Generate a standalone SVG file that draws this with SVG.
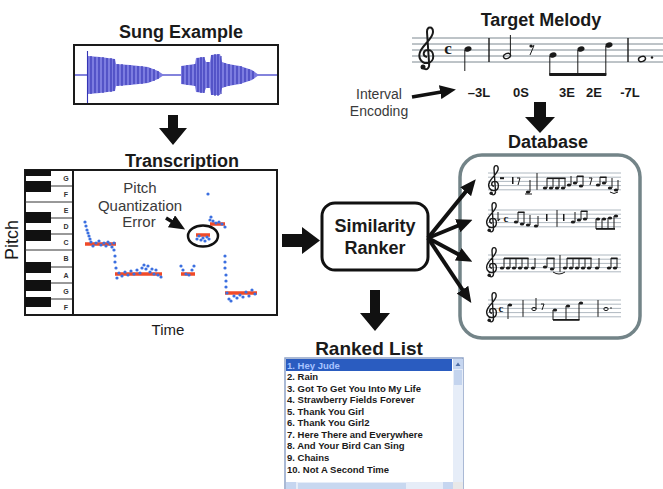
<svg xmlns="http://www.w3.org/2000/svg" xmlns:xlink="http://www.w3.org/1999/xlink" width="663" height="489" viewBox="0 0 663 489">
<style>
.title{font-family:"Liberation Sans",Arial,sans-serif;font-weight:bold;font-size:18px;fill:#1a1a1a;text-anchor:middle}
.lbl{font-family:"Liberation Sans",Arial,sans-serif;font-size:15px;fill:#3a3a3a;text-anchor:middle}
.enc{font-family:"Liberation Sans",Arial,sans-serif;font-weight:bold;font-size:13px;fill:#1a1a1a;text-anchor:middle}
.key{font-family:"Liberation Sans",Arial,sans-serif;font-weight:bold;font-size:7px;fill:#333;text-anchor:middle}
.item{font-family:"Liberation Sans",Arial,sans-serif;font-weight:bold;font-size:9.5px;fill:#1a1a1a}
.staff{stroke:#7c8890;stroke-width:1;fill:none}
.sstaff{stroke:#9aa6b0;stroke-width:0.8;fill:none}
.ink{fill:#1a1a1a}
.stem{stroke:#1a1a1a;stroke-width:1;fill:none}
.blk{fill:#111}
.red{stroke:#f04a28;stroke-width:3.5;fill:none}
.dot{fill:#3b6fe0}
.conn{stroke:#111;stroke-width:4;fill:none}
</style>
<defs>
<marker id="ah" markerUnits="userSpaceOnUse" markerWidth="16" markerHeight="14" refX="10" refY="7" orient="auto">
<path d="M0,0 L16,7 L0,14 z" fill="#111"/>
</marker>
<g id="clef">
<path d="M -4 30 C 0 33, 3 30, 2 24 L 0 -6 C 0 -12, 6 -12, 6 -6 C 6 0, -2 5, -6 12 C -10 19, -6 26, 1 25 C 8 24, 8 12, 1 12 C -4 12, -5 18, 0 19" fill="none" stroke="#1a1a1a" stroke-width="2"/>
<circle cx="-4" cy="29" r="2.5" fill="#1a1a1a"/>
</g>
</defs>
<rect width="663" height="489" fill="#ffffff"/>

<!-- Sung Example -->
<g id="sung-example">
<text class="title" x="181" y="38">Sung Example</text>
<rect x="74" y="45" width="204" height="59" fill="#ffffff" stroke="#1a1a1a" stroke-width="2"/>
<line x1="75" y1="75" x2="277" y2="75" stroke="#5a5ad0" stroke-width="1.5"/>
<path d="M87 75 L87 51 L88 56 L100 57 L115 59 L116 64 L130 65 L148 67 L158 71 L164 75 L158 79 L148 83 L130 85 L116 86 L115 91 L100 93 L88 94 L87 103 Z" fill="#7c7ce0"/>
<path d="M181 75 L181 66 L195 64 L196 58 L204 57 L206 62 L210 62 L211 55 L220 54 L222 62 L228 64 L240 66 L252 70 L259 75 L252 80 L240 84 L228 86 L222 88 L220 95 L211 95 L210 88 L206 88 L204 93 L196 92 L195 86 L181 84 Z" fill="#7c7ce0"/>
<path d="M87.5 51V103 M91 56V94 M95 57V93 M99 57V93 M103 57V93 M107 58V92 M111 58V92 M114 59V91 M118 64V86 M122 64V86 M126 65V85 M130 65V85 M134 66V84 M138 66V84 M142 66V84 M146 67V83 M150 68V82 M154 69V81 M158 71V79 M183 66V84 M187 65V85 M191 65V85 M195 64V86 M198 58V92 M201 57V93 M204 57V93 M208 62V88 M212 55V95 M215 54V96 M218 54V96 M221 56V94 M225 63V87 M229 64V86 M233 65V85 M237 66V84 M241 66V84 M245 68V82 M249 69V81 M253 71V79" stroke="#3434b4" stroke-width="1.1" fill="none"/>
</g>

<!-- Target Melody -->
<g id="target-melody">
<text class="title" x="541" y="26">Target Melody</text>
<path class="staff" d="M412 38H663 M412 44H663 M412 50H663 M412 56H663 M412 62H663"/>
<use xlink:href="#clef" transform="translate(427,38)"/>
<text x="448" y="54" font-family="Liberation Serif,serif" font-weight="bold" font-size="17" fill="#1a1a1a" text-anchor="middle">c</text>
<ellipse class="ink" cx="468" cy="49" rx="3.6" ry="2.6" transform="rotate(-20 468 49)"/>
<line class="stem" x1="464.8" y1="50" x2="464.8" y2="71"/>
<line x1="489" y1="38" x2="489" y2="62" stroke="#1a1a1a" stroke-width="1.4"/>
<ellipse cx="507" cy="56" rx="3.6" ry="2.5" transform="rotate(-20 507 56)" fill="none" stroke="#1a1a1a" stroke-width="1.4"/>
<line class="stem" x1="510.4" y1="55" x2="510.4" y2="35"/>
<circle class="ink" cx="531" cy="46" r="1.6"/>
<path d="M531 47 L534 45.5 L530 55" class="stem"/>
<ellipse class="ink" cx="553" cy="55" rx="3.6" ry="2.6" transform="rotate(-20 553 55)"/>
<ellipse class="ink" cx="581" cy="49" rx="3.6" ry="2.6" transform="rotate(-20 581 49)"/>
<ellipse class="ink" cx="609" cy="45" rx="3.6" ry="2.6" transform="rotate(-20 609 45)"/>
<path class="stem" d="M549.8 56V75 M577.8 50V75 M605.8 46V75"/>
<rect class="ink" x="549.3" y="73" width="57" height="3"/>
<line x1="628" y1="38" x2="628" y2="62" stroke="#1a1a1a" stroke-width="1.4"/>
<ellipse cx="642" cy="59" rx="3.6" ry="2.5" transform="rotate(-20 642 59)" fill="none" stroke="#1a1a1a" stroke-width="1.4"/>
<circle class="ink" cx="652" cy="57.5" r="1.2"/>
<text class="enc" x="479" y="97">–3L</text>
<text class="enc" x="521" y="97">0S</text>
<text class="enc" x="567" y="97">3E</text>
<text class="enc" x="594" y="97">2E</text>
<text class="enc" x="630" y="97">-7L</text>
</g>

<g id="interval-encoding">
<text class="lbl" x="379" y="99" style="font-size:14px">Interval</text>
<text class="lbl" x="379" y="116" style="font-size:14px">Encoding</text>
</g>

<!-- Transcription -->
<g id="transcription">
<text class="title" x="182" y="167">Transcription</text>
<rect x="25" y="170" width="252" height="145" fill="#ffffff" stroke="#1a1a1a" stroke-width="2"/>
<path d="M25 186H73 M25 202H73 M25 218H73 M25 234H73 M25 250H73 M25 267H73 M25 283H73 M25 299H73" stroke="#333" stroke-width="1"/>
<rect class="blk" x="25" y="170" width="26" height="6"/>
<rect class="blk" x="25" y="181" width="26" height="11"/>
<rect class="blk" x="25" y="212" width="26" height="11"/>
<rect class="blk" x="25" y="230" width="26" height="11"/>
<rect class="blk" x="25" y="262" width="26" height="11"/>
<rect class="blk" x="25" y="280" width="26" height="11"/>
<rect class="blk" x="25" y="297" width="26" height="10"/>
<line x1="73" y1="170" x2="73" y2="315" stroke="#1a1a1a" stroke-width="2"/>
<text class="key" x="66" y="181">G</text>
<text class="key" x="66" y="197">F</text>
<text class="key" x="66" y="213">E</text>
<text class="key" x="66" y="229">D</text>
<text class="key" x="66" y="245">C</text>
<text class="key" x="66" y="261">B</text>
<text class="key" x="66" y="278">A</text>
<text class="key" x="66" y="294">G</text>
<text class="key" x="66" y="310">F</text>
<path class="red" d="M85 244H116 M115 274H162 M181 274H195 M196 235H210 M210 224H225 M225 293H257"/>
<g class="dot">
<circle cx="85" cy="222" r="1.6"/><circle cx="86" cy="226" r="1.6"/><circle cx="87" cy="230" r="1.6"/><circle cx="88" cy="233" r="1.6"/><circle cx="89" cy="236" r="1.6"/><circle cx="90" cy="239" r="1.6"/><circle cx="91" cy="242" r="1.6"/><circle cx="93" cy="246" r="1.6"/><circle cx="96" cy="243" r="1.6"/><circle cx="99" cy="241" r="1.6"/><circle cx="101" cy="245" r="1.6"/><circle cx="104" cy="243" r="1.6"/><circle cx="106" cy="246" r="1.6"/><circle cx="108" cy="242" r="1.6"/><circle cx="110" cy="244" r="1.6"/><circle cx="112" cy="247" r="1.6"/><circle cx="114" cy="243" r="1.6"/>
<circle cx="114" cy="250" r="1.6"/><circle cx="115" cy="256" r="1.6"/><circle cx="115" cy="262" r="1.6"/><circle cx="116" cy="268" r="1.6"/>
<circle cx="117" cy="278" r="1.6"/><circle cx="119" cy="273" r="1.6"/><circle cx="122" cy="276" r="1.6"/><circle cx="125" cy="272" r="1.6"/><circle cx="128" cy="275" r="1.6"/><circle cx="131" cy="271" r="1.6"/><circle cx="134" cy="274" r="1.6"/><circle cx="137" cy="270" r="1.6"/><circle cx="140" cy="273" r="1.6"/><circle cx="142" cy="268" r="1.6"/><circle cx="144" cy="265" r="1.6"/><circle cx="146" cy="269" r="1.6"/><circle cx="148" cy="266" r="1.6"/><circle cx="150" cy="272" r="1.6"/><circle cx="152" cy="269" r="1.6"/><circle cx="154" cy="274" r="1.6"/><circle cx="156" cy="270" r="1.6"/><circle cx="158" cy="275" r="1.6"/><circle cx="161" cy="277" r="1.6"/>
<circle cx="181" cy="266" r="1.6"/><circle cx="183" cy="270" r="1.6"/><circle cx="186" cy="274" r="1.6"/><circle cx="189" cy="275" r="1.6"/><circle cx="192" cy="270" r="1.6"/><circle cx="194" cy="266" r="1.6"/>
<circle cx="197" cy="239" r="1.6"/><circle cx="199" cy="236" r="1.6"/><circle cx="201" cy="240" r="1.6"/><circle cx="203" cy="238" r="1.6"/><circle cx="205" cy="241" r="1.6"/><circle cx="207" cy="237" r="1.6"/><circle cx="209" cy="239" r="1.6"/>
<circle cx="208" cy="194" r="1.6"/>
<circle cx="210" cy="220" r="1.6"/><circle cx="211" cy="217" r="1.6"/><circle cx="213" cy="221" r="1.6"/><circle cx="216" cy="223" r="1.6"/><circle cx="219" cy="222" r="1.6"/><circle cx="222" cy="224" r="1.6"/><circle cx="225" cy="227" r="1.6"/>
<circle cx="225" cy="256" r="1.6"/><circle cx="225" cy="262" r="1.6"/><circle cx="225" cy="268" r="1.6"/><circle cx="226" cy="275" r="1.6"/><circle cx="226" cy="281" r="1.6"/><circle cx="226" cy="287" r="1.6"/>
<circle cx="227" cy="293" r="1.6"/><circle cx="229" cy="299" r="1.6"/><circle cx="231" cy="301" r="1.6"/><circle cx="234" cy="296" r="1.6"/><circle cx="237" cy="298" r="1.6"/><circle cx="240" cy="295" r="1.6"/><circle cx="243" cy="297" r="1.6"/><circle cx="246" cy="292" r="1.6"/><circle cx="249" cy="296" r="1.6"/><circle cx="252" cy="290" r="1.6"/><circle cx="255" cy="294" r="1.6"/>
</g>
<ellipse cx="203" cy="236" rx="15" ry="10.5" fill="none" stroke="#111" stroke-width="2.5"/>
<text class="lbl" x="140" y="193">Pitch</text>
<text class="lbl" x="140" y="211">Quantization</text>
<text class="lbl" x="139" y="227">Error</text>
<text x="12" y="240" transform="rotate(-90 12 240)" font-family="Liberation Sans,Arial,sans-serif" font-size="18" fill="#1a1a1a" text-anchor="middle" dominant-baseline="central">Pitch</text>
<text x="168" y="335" font-family="Liberation Sans,Arial,sans-serif" font-size="15" fill="#1a1a1a" text-anchor="middle">Time</text>
</g>

<!-- Similarity Ranker -->
<g id="similarity-ranker">
<rect x="322" y="203" width="106" height="67" rx="13" fill="#ffffff" stroke="#111" stroke-width="3"/>
<text class="title" x="375" y="232">Similarity</text>
<text class="title" x="375" y="254">Ranker</text>
</g>

<!-- Database -->
<g id="database">
<text class="title" x="548" y="148">Database</text>
<rect x="460" y="155" width="180" height="183" rx="22" fill="#ffffff" stroke="#738488" stroke-width="3.5"/>
<path class="sstaff" d="M488 173H621 M488 177.2H621 M488 181.4H621 M488 185.6H621 M488 189.8H621"/>
<use xlink:href="#clef" transform="translate(494,173) scale(0.7)"/>
<g class="ink">
<rect x="500" y="177.2" width="4" height="2"/>
<rect x="512" y="177" width="1.5" height="7"/>
<path d="M517 178 L520 178 L518 185" stroke="#1a1a1a" stroke-width="1" fill="none"/>
<ellipse cx="528" cy="192" rx="2.2" ry="1.6"/>
<line class="stem" x1="530" y1="192" x2="530" y2="180"/>
<line class="stem" x1="525" y1="194" x2="532" y2="194"/>
<line class="stem" x1="537" y1="173" x2="537" y2="189.8"/>
<ellipse cx="545" cy="188" rx="2.2" ry="1.6"/><ellipse cx="551" cy="188" rx="2.2" ry="1.6"/><ellipse cx="557" cy="188" rx="2.2" ry="1.6"/><ellipse cx="563" cy="188" rx="2.2" ry="1.6"/>
<path class="stem" d="M547 188V178 M553 188V178 M559 188V178 M565 188V178"/>
<rect x="547" y="177.5" width="18.5" height="1.6"/>
<ellipse cx="569" cy="185" rx="2.2" ry="1.6"/><ellipse cx="575" cy="183" rx="2.2" ry="1.6"/><ellipse cx="581" cy="186" rx="2.2" ry="1.6"/>
<path class="stem" d="M571 185V176 M577 183V176 M583 186V176"/>
<rect x="577" y="175.5" width="6.5" height="1.5"/>
<path d="M589 178 L592 178 L590 185" stroke="#1a1a1a" stroke-width="1" fill="none"/>
<ellipse cx="598" cy="185" rx="2.2" ry="1.6"/><ellipse cx="604" cy="183" rx="2.2" ry="1.6"/><ellipse cx="610" cy="188" rx="2.2" ry="1.6"/><ellipse cx="616" cy="190" rx="2.2" ry="1.6"/>
<path class="stem" d="M600 185V177 M606 183V177 M612 188V178 M618 190V180"/>
<rect x="600" y="176.5" width="6.5" height="1.5"/>
<path d="M610 192 Q614 195 618 192" class="stem"/>
</g>
<path class="sstaff" d="M488 210H621 M488 214.2H621 M488 218.4H621 M488 222.6H621 M488 226.8H621"/>
<use xlink:href="#clef" transform="translate(492,210) scale(0.7)"/>
<g class="ink">
<path d="M498 212V221 Q502 218 498 220" class="stem"/>
<text x="506" y="222" font-family="Liberation Serif,serif" font-weight="bold" font-size="11" fill="#1a1a1a" text-anchor="middle">c</text>
<ellipse cx="516" cy="222" rx="2.2" ry="1.6"/><ellipse cx="522" cy="224" rx="2.2" ry="1.6"/><ellipse cx="528" cy="225" rx="2.2" ry="1.6"/>
<path class="stem" d="M518 222V212 M524 224V212"/>
<rect x="518" y="211.5" width="6.5" height="1.5"/>
<line class="stem" x1="530" y1="225" x2="530" y2="215"/>
<ellipse cx="536" cy="226" rx="2.2" ry="1.6"/>
<line class="stem" x1="538" y1="226" x2="538" y2="216"/>
<rect x="546" y="214" width="1.5" height="7"/>
<line class="stem" x1="557" y1="210" x2="557" y2="226.8"/>
<rect x="563" y="214" width="1.5" height="7"/>
<ellipse cx="573" cy="222" rx="2.2" ry="1.6"/><ellipse cx="579" cy="220" rx="2.2" ry="1.6"/><ellipse cx="585" cy="219" rx="2.2" ry="1.6"/>
<path class="stem" d="M575 222V212 M581 220V211 M587 219V211"/>
<rect x="581" y="210.5" width="6.5" height="1.5"/>
<ellipse cx="598" cy="219" rx="2.2" ry="1.6"/><ellipse cx="604" cy="219" rx="2.2" ry="1.6"/><ellipse cx="610" cy="218" rx="2.2" ry="1.6"/><ellipse cx="616" cy="216" rx="2.2" ry="1.6"/>
<path class="stem" d="M596 219V229 M602 219V229 M608 218V229 M614 216V229"/>
<rect x="596" y="228" width="19" height="1.8"/>
</g>
<path class="sstaff" d="M488 255H621 M488 259.2H621 M488 263.4H621 M488 267.6H621 M488 271.8H621"/>
<use xlink:href="#clef" transform="translate(492,255) scale(0.7)"/>
<g class="ink">
<ellipse cx="502" cy="268" rx="2.2" ry="1.6"/><ellipse cx="508" cy="268" rx="2.2" ry="1.6"/><ellipse cx="514" cy="268" rx="2.2" ry="1.6"/><ellipse cx="520" cy="268" rx="2.2" ry="1.6"/><ellipse cx="526" cy="268" rx="2.2" ry="1.6"/><ellipse cx="533" cy="268" rx="2.2" ry="1.6"/>
<path class="stem" d="M504 268V258 M510 268V258 M516 268V258 M522 268V258 M528 268V258 M535 268V258"/>
<rect x="504" y="257.5" width="24.5" height="1.6"/>
<ellipse cx="545" cy="267" rx="2.2" ry="1.6"/><ellipse cx="552" cy="269" rx="2.2" ry="1.6"/>
<path class="stem" d="M547 267V258 M554 269V258"/>
<rect x="547" y="257.5" width="7.5" height="1.6"/>
<path class="stem" d="M553 272 Q559 276 565 272"/>
<line class="stem" x1="560" y1="255" x2="560" y2="271.8"/>
<ellipse cx="565" cy="268" rx="2.2" ry="1.6"/><ellipse cx="571" cy="268" rx="2.2" ry="1.6"/><ellipse cx="577" cy="268" rx="2.2" ry="1.6"/><ellipse cx="583" cy="268" rx="2.2" ry="1.6"/><ellipse cx="589" cy="268" rx="2.2" ry="1.6"/><ellipse cx="597" cy="268" rx="2.2" ry="1.6"/>
<path class="stem" d="M567 268V258 M573 268V258 M579 268V258 M585 268V258 M591 268V258 M599 268V258"/>
<rect x="567" y="257.5" width="24.5" height="1.6"/>
<ellipse cx="609" cy="268" rx="2.2" ry="1.6"/><ellipse cx="615" cy="268" rx="2.2" ry="1.6"/>
<path class="stem" d="M611 268V258 M617 268V258"/>
<rect x="611" y="257.5" width="6.5" height="1.6"/>
</g>
<path class="sstaff" d="M488 300H621 M488 304.2H621 M488 308.4H621 M488 312.6H621 M488 316.8H621"/>
<use xlink:href="#clef" transform="translate(492,300) scale(0.7)"/>
<g class="ink">
<text x="501" y="312" font-family="Liberation Serif,serif" font-weight="bold" font-size="11" fill="#1a1a1a" text-anchor="middle">c</text>
<ellipse cx="510" cy="305" rx="2.2" ry="1.6"/>
<line class="stem" x1="508" y1="305" x2="508" y2="319"/>
<line class="stem" x1="523" y1="300" x2="523" y2="316.8"/>
<ellipse cx="534" cy="309" rx="2.2" ry="1.6" fill="none" stroke="#1a1a1a" stroke-width="1"/>
<line class="stem" x1="536" y1="309" x2="536" y2="298"/>
<path d="M541 304 L544 304 L542 310" stroke="#1a1a1a" stroke-width="1" fill="none"/>
<ellipse cx="555" cy="310" rx="2.2" ry="1.6"/><ellipse cx="568" cy="306" rx="2.2" ry="1.6"/><ellipse cx="581" cy="303" rx="2.2" ry="1.6"/>
<path class="stem" d="M553 310V320 M566 306V320 M579 303V320"/>
<rect x="553" y="319" width="26.5" height="1.8"/>
<line class="stem" x1="598" y1="300" x2="598" y2="316.8"/>
<ellipse cx="606" cy="309" rx="2.2" ry="1.6" fill="none" stroke="#1a1a1a" stroke-width="1"/>
<circle cx="611" cy="308" r="0.8"/>
</g>
</g>

<!-- Ranked List -->
<g id="ranked-list" xml:space="preserve">
<text class="title" x="369" y="355" style="font-size:19px">Ranked List</text>
<rect x="285" y="358" width="178" height="135" fill="#ffffff" stroke="#8fa3c8" stroke-width="1.5"/>
<rect x="453" y="359" width="10" height="123" fill="#e6edf8"/>
<rect x="453" y="359" width="10" height="10" fill="#c6d6f0"/>
<path d="M455.5 366 L458 362.5 L460.5 366 Z" fill="#5070a8"/>
<rect x="454" y="370" width="8" height="15" fill="#c4d4ee"/>
<rect x="286" y="482" width="167" height="7" fill="#e6edf8"/>
<rect x="286" y="482" width="10" height="7" fill="#c6d6f0"/>
<rect x="443" y="482" width="10" height="7" fill="#c6d6f0"/>
<rect x="298" y="483" width="108" height="6" fill="#c8d8f0"/>
<rect x="453" y="482" width="10" height="7" fill="#e8e8e8"/>
<rect x="286" y="359" width="166" height="12" fill="#2a5cc0"/>
<text class="item" x="287" y="368.5" style="fill:#a8c4ff">1.  Hey Jude</text>
<text class="item" x="287" y="380">2.  Rain</text>
<text class="item" x="287" y="391.6">3.  Got To Get You Into My Life</text>
<text class="item" x="287" y="403.2">4.  Strawberry Fields Forever</text>
<text class="item" x="287" y="414.7">5.  Thank You Girl</text>
<text class="item" x="287" y="426.3">6.  Thank You Girl2</text>
<text class="item" x="287" y="437.8">7.  Here There and Everywhere</text>
<text class="item" x="287" y="449.4">8.  And Your Bird Can Sing</text>
<text class="item" x="287" y="461">9.  Chains</text>
<text class="item" x="287" y="472.5">10.  Not A Second Time</text>
</g>

<!-- Connectors -->
<g id="connectors">
<path class="blk" d="M168 115H178V128H187L173 145L159 128H168Z"/>
<path class="blk" d="M534 102H546V117H555L540 133L525 117H534Z"/>
<path class="blk" d="M370 290H380V313H390L375 331L360 313H370Z"/>
<path class="blk" d="M282 234H302V227L320 240.5L302 254V247H282Z"/>
<line x1="412" y1="97" x2="450" y2="90.5" stroke="#111" stroke-width="3.5" marker-end="url(#ah)"/>
<line x1="166" y1="218" x2="180" y2="226.5" stroke="#111" stroke-width="3.5" marker-end="url(#ah)"/>
<line class="conn" x1="428" y1="238" x2="472" y2="184" marker-end="url(#ah)"/>
<line class="conn" x1="428" y1="238" x2="467" y2="222" marker-end="url(#ah)"/>
<line class="conn" x1="428" y1="238" x2="467" y2="259" marker-end="url(#ah)"/>
<line class="conn" x1="428" y1="238" x2="468" y2="298" marker-end="url(#ah)"/>
</g>
</svg>
